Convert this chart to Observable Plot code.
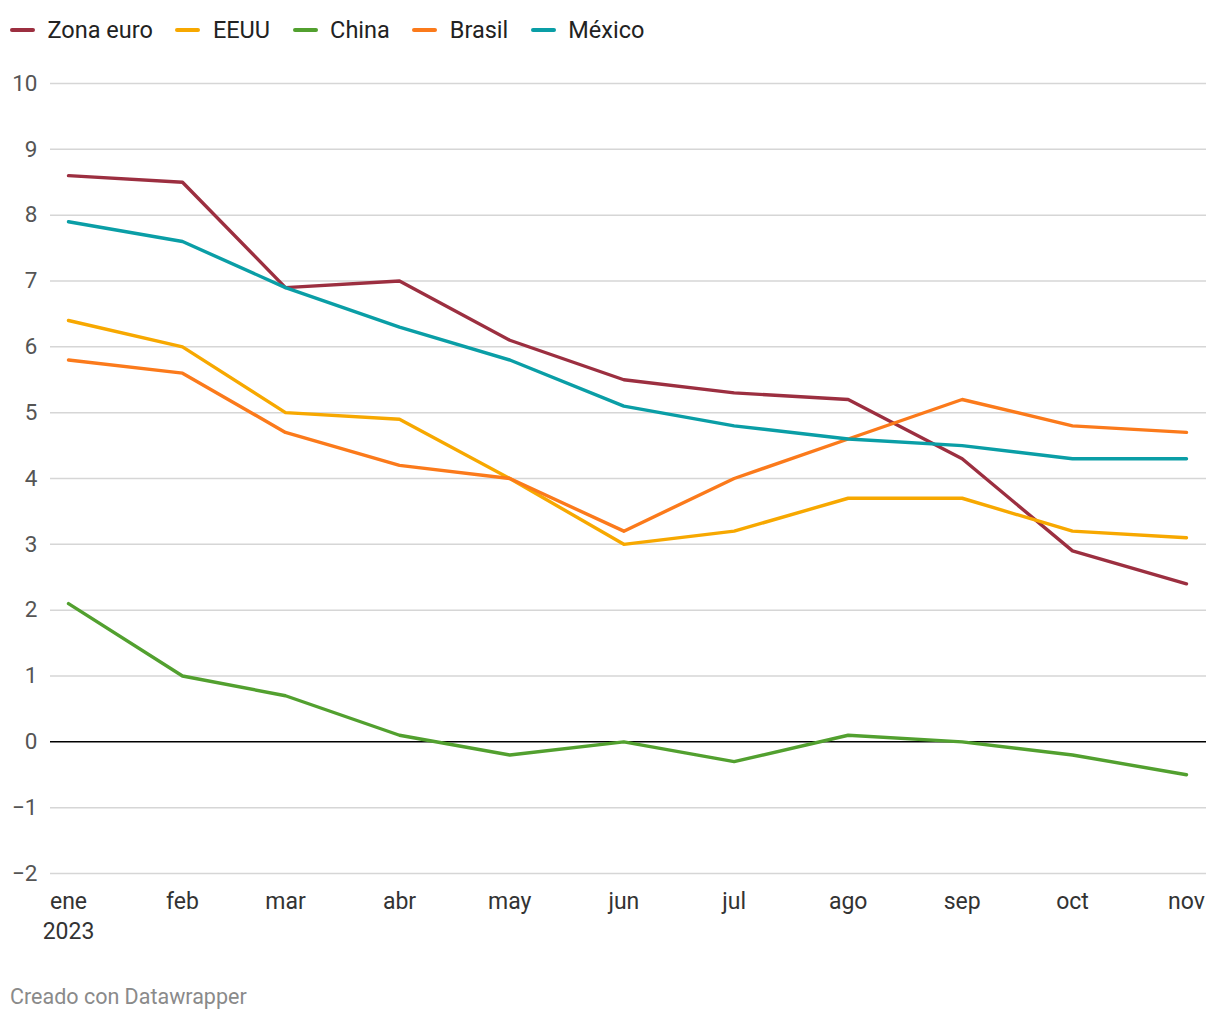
<!DOCTYPE html>
<html><head><meta charset="utf-8">
<script src="https://cdn.jsdelivr.net/npm/d3@7"></script>
<script src="https://cdn.jsdelivr.net/npm/@observablehq/plot@0.6"></script>
<style>
body{margin:0;background:#fff;font-family:Roboto,sans-serif;}
#wrap{position:relative;width:1220px;height:1020px;}
#legend{position:absolute;left:10px;top:16px;display:flex;font-size:23.5px;color:#222;}
.item{display:flex;align-items:center;margin-right:22.5px;}
.sw{width:25px;height:4px;border-radius:2px;margin-right:12.5px;}
#caption{position:absolute;left:10px;top:984px;font-size:21.5px;color:#8a8a8a;}
#chart{position:absolute;left:0;top:0;}
</style></head><body>
<div id="wrap"><div id="chart"></div><div id="legend"></div><div id="caption">Creado con Datawrapper</div></div>
<script>
const months = ["ene","feb","mar","abr","may","jun","jul","ago","sep","oct","nov"];
const year = 2023;
const seriesNames = ["Zona euro","EEUU","China","Brasil","México"];
const colors = ["#9c2f40","#f7a800","#52a02f","#fb7a1b","#0a9ea6"];
const zonaEuro = [8.6,8.5,6.9,7.0,6.1,5.5,5.3,5.2,4.3,2.9,2.4];
const eeuu = [6.4,6.0,5.0,4.9,4.0,3.0,3.2,3.7,3.7,3.2,3.1];
const china = [2.1,1.0,0.7,0.1,-0.2,0.0,-0.3,0.1,0.0,-0.2,-0.5];
const brasil = [5.8,5.6,4.7,4.2,4.0,3.2,4.0,4.6,5.2,4.8,4.7];
const mexico = [7.9,7.6,6.9,6.3,5.8,5.1,4.8,4.6,4.5,4.3,4.3];
const yTicks = [-2,-1,0,1,2,3,4,5,6,7,8,9,10];

const dates = months.map((m, i) => new Date(Date.UTC(year, i, 1)));
const allSeries = [zonaEuro, eeuu, china, brasil, mexico];
const data = [];
allSeries.forEach((vals, si) => vals.forEach((v, i) => data.push({serie: seriesNames[si], date: dates[i], value: v})));

const legend = document.getElementById("legend");
seriesNames.forEach((n, i) => {
  const d = document.createElement("div"); d.className = "item";
  d.innerHTML = `<span class="sw" style="background:${colors[i]}"></span><span>${n}</span>`;
  legend.appendChild(d);
});

const chart = Plot.plot({
  width: 1220, height: 1020,
  marginTop: 83, marginBottom: 147, marginLeft: 68, marginRight: 34,
  style: {fontFamily: "Roboto, sans-serif", fontSize: "22px", background: "transparent", overflow: "visible"},
  x: {type: "utc", domain: [dates[0], dates[dates.length - 1]]},
  y: {domain: [-2, 10]},
  color: {domain: seriesNames, range: colors},
  marks: [
    Plot.ruleY(yTicks.filter(d => d !== 0), {stroke: "#d6d6d6", strokeWidth: 1.5, insetLeft: -18, insetRight: -20}),
    Plot.axisY(yTicks, {tickSize: 0, tickPadding: 31, fill: "#555", fontSize: 22.5, label: null,
      tickFormat: d => d < 0 ? "\u2212" + Math.abs(d) : String(d)}),
    Plot.axisX(dates, {tickSize: 0, tickPadding: 14, fill: "#333", fontSize: 23, label: null, lineHeight: 1.32,
      tickFormat: d => { const i = d.getUTCMonth(); return i === 0 ? months[i] + "\n" + year : months[i]; }}),
    Plot.ruleY([0], {stroke: "#000", strokeWidth: 1.5, insetLeft: -18, insetRight: -20}),
    Plot.line(data, {x: "date", y: "value", z: "serie", stroke: "serie", strokeWidth: 3.4, strokeLinejoin: "round", strokeLinecap: "round"})
  ]
});
document.getElementById("chart").appendChild(chart);
</script></body></html>
